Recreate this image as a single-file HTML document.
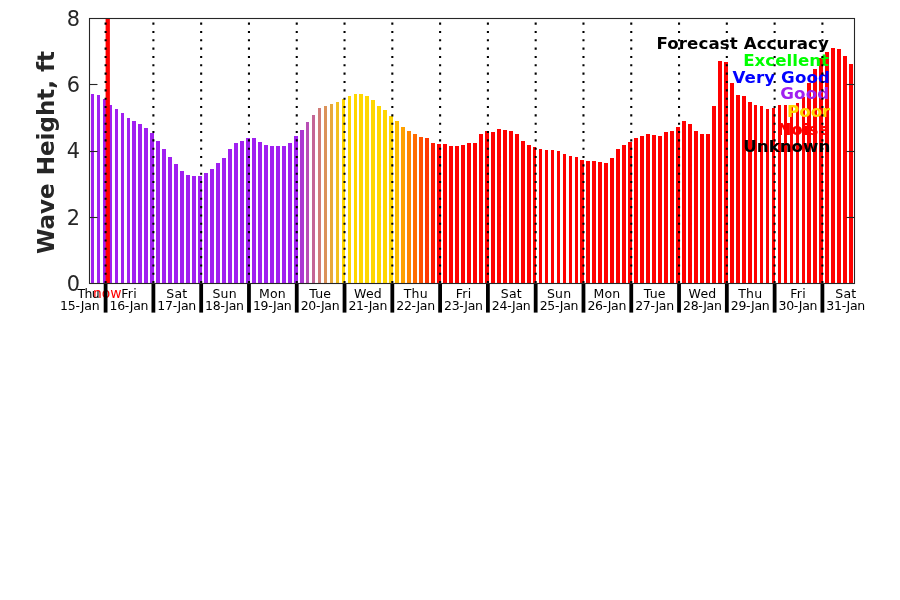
<!DOCTYPE html>
<html><head><meta charset="utf-8"><title>Wave Height Forecast</title>
<style>
html,body{margin:0;padding:0;background:#fff;}
body{width:900px;height:600px;overflow:hidden;}
svg{display:block;}
text{font-family:"DejaVu Sans","Liberation Sans",sans-serif;}
.b{font-weight:bold;}
</style></head><body>
<svg width="900" height="600" viewBox="0 0 900 600">
<rect width="900" height="600" fill="#fff"/>

<g shape-rendering="crispEdges">
<rect x="91" y="94" width="3" height="189" fill="#a020f0"/>
<rect x="97" y="95" width="3" height="188" fill="#a020f0"/>
<rect x="103" y="99" width="3" height="184" fill="#a020f0"/>
<rect x="109" y="105" width="3" height="178" fill="#a020f0"/>
<rect x="115" y="109" width="3" height="174" fill="#a020f0"/>
<rect x="121" y="113" width="3" height="170" fill="#a020f0"/>
<rect x="127" y="118" width="3" height="165" fill="#a020f0"/>
<rect x="132" y="121" width="4" height="162" fill="#a020f0"/>
<rect x="138" y="124" width="4" height="159" fill="#a020f0"/>
<rect x="144" y="128" width="4" height="155" fill="#a020f0"/>
<rect x="150" y="133" width="4" height="150" fill="#a020f0"/>
<rect x="156" y="141" width="4" height="142" fill="#a020f0"/>
<rect x="162" y="149" width="4" height="134" fill="#a020f0"/>
<rect x="168" y="157" width="4" height="126" fill="#a020f0"/>
<rect x="174" y="164" width="4" height="119" fill="#a020f0"/>
<rect x="180" y="171" width="4" height="112" fill="#a020f0"/>
<rect x="186" y="175" width="4" height="108" fill="#a020f0"/>
<rect x="192" y="176" width="4" height="107" fill="#a020f0"/>
<rect x="198" y="176" width="4" height="107" fill="#a020f0"/>
<rect x="204" y="173" width="4" height="110" fill="#a020f0"/>
<rect x="210" y="169" width="4" height="114" fill="#a020f0"/>
<rect x="216" y="163" width="4" height="120" fill="#a020f0"/>
<rect x="222" y="158" width="4" height="125" fill="#a020f0"/>
<rect x="228" y="149" width="4" height="134" fill="#a020f0"/>
<rect x="234" y="143" width="4" height="140" fill="#a020f0"/>
<rect x="240" y="141" width="4" height="142" fill="#a020f0"/>
<rect x="246" y="138" width="4" height="145" fill="#a020f0"/>
<rect x="252" y="138" width="4" height="145" fill="#a020f0"/>
<rect x="258" y="142" width="4" height="141" fill="#a020f0"/>
<rect x="264" y="145" width="4" height="138" fill="#a020f0"/>
<rect x="270" y="146" width="4" height="137" fill="#a020f0"/>
<rect x="276" y="146" width="4" height="137" fill="#a020f0"/>
<rect x="282" y="146" width="4" height="137" fill="#a020f0"/>
<rect x="288" y="143" width="4" height="140" fill="#a020f0"/>
<rect x="294" y="136" width="4" height="147" fill="#a020f0"/>
<rect x="300" y="130" width="4" height="153" fill="#ac37d2"/>
<rect x="306" y="122" width="3" height="161" fill="#b84eb4"/>
<rect x="312" y="115" width="3" height="168" fill="#c46596"/>
<rect x="318" y="108" width="3" height="175" fill="#d07c78"/>
<rect x="324" y="106" width="3" height="177" fill="#db925a"/>
<rect x="330" y="104" width="3" height="179" fill="#e7a93c"/>
<rect x="336" y="102" width="3" height="181" fill="#f3c01e"/>
<rect x="342" y="99" width="3" height="184" fill="#ffd700"/>
<rect x="348" y="96" width="3" height="187" fill="#ffd700"/>
<rect x="354" y="94" width="3" height="189" fill="#ffd700"/>
<rect x="359" y="94" width="4" height="189" fill="#ffd700"/>
<rect x="365" y="96" width="4" height="187" fill="#ffd700"/>
<rect x="371" y="100" width="4" height="183" fill="#ffd700"/>
<rect x="377" y="106" width="4" height="177" fill="#ffd700"/>
<rect x="383" y="110" width="4" height="173" fill="#ffd700"/>
<rect x="389" y="116" width="4" height="167" fill="#ffd700"/>
<rect x="395" y="121" width="4" height="162" fill="#ffbc00"/>
<rect x="401" y="127" width="4" height="156" fill="#ffa100"/>
<rect x="407" y="131" width="4" height="152" fill="#ff8600"/>
<rect x="413" y="134" width="4" height="149" fill="#ff6c00"/>
<rect x="419" y="137" width="4" height="146" fill="#ff5100"/>
<rect x="425" y="138" width="4" height="145" fill="#ff3600"/>
<rect x="431" y="143" width="4" height="140" fill="#ff1b00"/>
<rect x="437" y="144" width="4" height="139" fill="#ff0000"/>
<rect x="443" y="144" width="4" height="139" fill="#ff0000"/>
<rect x="449" y="146" width="4" height="137" fill="#ff0000"/>
<rect x="455" y="146" width="4" height="137" fill="#ff0000"/>
<rect x="461" y="145" width="4" height="138" fill="#ff0000"/>
<rect x="467" y="143" width="4" height="140" fill="#ff0000"/>
<rect x="473" y="143" width="4" height="140" fill="#ff0000"/>
<rect x="479" y="134" width="4" height="149" fill="#ff0000"/>
<rect x="485" y="131" width="4" height="152" fill="#ff0000"/>
<rect x="491" y="132" width="4" height="151" fill="#ff0000"/>
<rect x="497" y="129" width="4" height="154" fill="#ff0000"/>
<rect x="503" y="130" width="4" height="153" fill="#ff0000"/>
<rect x="509" y="131" width="4" height="152" fill="#ff0000"/>
<rect x="515" y="134" width="4" height="149" fill="#ff0000"/>
<rect x="521" y="141" width="4" height="142" fill="#ff0000"/>
<rect x="527" y="145" width="4" height="138" fill="#ff0000"/>
<rect x="533" y="147" width="3" height="136" fill="#ff0000"/>
<rect x="539" y="149" width="3" height="134" fill="#ff0000"/>
<rect x="545" y="150" width="3" height="133" fill="#ff0000"/>
<rect x="551" y="150" width="3" height="133" fill="#ff0000"/>
<rect x="557" y="151" width="3" height="132" fill="#ff0000"/>
<rect x="563" y="154" width="3" height="129" fill="#ff0000"/>
<rect x="569" y="156" width="3" height="127" fill="#ff0000"/>
<rect x="575" y="157" width="3" height="126" fill="#ff0000"/>
<rect x="580" y="160" width="4" height="123" fill="#ff0000"/>
<rect x="586" y="161" width="4" height="122" fill="#ff0000"/>
<rect x="592" y="161" width="4" height="122" fill="#ff0000"/>
<rect x="598" y="162" width="4" height="121" fill="#ff0000"/>
<rect x="604" y="163" width="4" height="120" fill="#ff0000"/>
<rect x="610" y="158" width="4" height="125" fill="#ff0000"/>
<rect x="616" y="149" width="4" height="134" fill="#ff0000"/>
<rect x="622" y="145" width="4" height="138" fill="#ff0000"/>
<rect x="628" y="142" width="4" height="141" fill="#ff0000"/>
<rect x="634" y="138" width="4" height="145" fill="#ff0000"/>
<rect x="640" y="136" width="4" height="147" fill="#ff0000"/>
<rect x="646" y="134" width="4" height="149" fill="#ff0000"/>
<rect x="652" y="135" width="4" height="148" fill="#ff0000"/>
<rect x="658" y="136" width="4" height="147" fill="#ff0000"/>
<rect x="664" y="132" width="4" height="151" fill="#ff0000"/>
<rect x="670" y="131" width="4" height="152" fill="#ff0000"/>
<rect x="676" y="127" width="4" height="156" fill="#ff0000"/>
<rect x="682" y="121" width="4" height="162" fill="#ff0000"/>
<rect x="688" y="124" width="4" height="159" fill="#ff0000"/>
<rect x="694" y="131" width="4" height="152" fill="#ff0000"/>
<rect x="700" y="134" width="4" height="149" fill="#ff0000"/>
<rect x="706" y="134" width="4" height="149" fill="#ff0000"/>
<rect x="712" y="106" width="4" height="177" fill="#ff0000"/>
<rect x="718" y="61" width="4" height="222" fill="#ff0000"/>
<rect x="724" y="62" width="4" height="221" fill="#ff0000"/>
<rect x="730" y="83" width="4" height="200" fill="#ff0000"/>
<rect x="736" y="95" width="4" height="188" fill="#ff0000"/>
<rect x="742" y="96" width="4" height="187" fill="#ff0000"/>
<rect x="748" y="102" width="4" height="181" fill="#ff0000"/>
<rect x="754" y="105" width="3" height="178" fill="#ff0000"/>
<rect x="760" y="106" width="3" height="177" fill="#ff0000"/>
<rect x="766" y="109" width="3" height="174" fill="#ff0000"/>
<rect x="772" y="108" width="3" height="175" fill="#ff0000"/>
<rect x="778" y="105" width="3" height="178" fill="#ff0000"/>
<rect x="784" y="105" width="3" height="178" fill="#ff0000"/>
<rect x="790" y="105" width="3" height="178" fill="#ff0000"/>
<rect x="796" y="103" width="3" height="180" fill="#ff0000"/>
<rect x="802" y="97" width="3" height="186" fill="#ff0000"/>
<rect x="807" y="83" width="4" height="200" fill="#ff0000"/>
<rect x="813" y="69" width="4" height="214" fill="#ff0000"/>
<rect x="819" y="58" width="4" height="225" fill="#ff0000"/>
<rect x="825" y="52" width="4" height="231" fill="#ff0000"/>
<rect x="831" y="48" width="4" height="235" fill="#ff0000"/>
<rect x="837" y="49" width="4" height="234" fill="#ff0000"/>
<rect x="843" y="56" width="4" height="227" fill="#ff0000"/>
<rect x="849" y="64" width="4" height="219" fill="#ff0000"/>
</g>
<text class="b" x="829.0" y="48.6" font-size="16.67" fill="#000" text-anchor="end" letter-spacing="0.08">Forecast Accuracy</text>
<text class="b" x="829.0" y="65.7" font-size="16.67" fill="#0f0" text-anchor="end">Excellent</text>
<text class="b" x="830.1" y="82.8" font-size="16.67" fill="#00f" text-anchor="end" letter-spacing="0.12">Very Good</text>
<text class="b" x="829.4" y="99.4" font-size="16.67" fill="#a020f0" text-anchor="end" letter-spacing="0.15">Good</text>
<text class="b" x="830.3" y="117.0" font-size="16.67" fill="#ffd700" text-anchor="end">Poor</text>
<text class="b" x="829.7" y="135.0" font-size="16.67" fill="#f00" text-anchor="end">Noise</text>
<text class="b" x="830.3" y="152.0" font-size="16.67" fill="#000" text-anchor="end">Unknown</text>
<line x1="107.75" y1="18.5" x2="107.75" y2="283.5" stroke="#f00" stroke-width="4.3"/>
<line x1="105.60" y1="283.2" x2="105.60" y2="18.5" stroke="#000" stroke-width="2.08" stroke-dasharray="2.08 6.26"/>
<line x1="153.39" y1="283.2" x2="153.39" y2="18.5" stroke="#000" stroke-width="2.08" stroke-dasharray="2.08 6.26"/>
<line x1="201.17" y1="283.2" x2="201.17" y2="18.5" stroke="#000" stroke-width="2.08" stroke-dasharray="2.08 6.26"/>
<line x1="248.96" y1="283.2" x2="248.96" y2="18.5" stroke="#000" stroke-width="2.08" stroke-dasharray="2.08 6.26"/>
<line x1="296.75" y1="283.2" x2="296.75" y2="18.5" stroke="#000" stroke-width="2.08" stroke-dasharray="2.08 6.26"/>
<line x1="344.53" y1="283.2" x2="344.53" y2="18.5" stroke="#000" stroke-width="2.08" stroke-dasharray="2.08 6.26"/>
<line x1="392.32" y1="283.2" x2="392.32" y2="18.5" stroke="#000" stroke-width="2.08" stroke-dasharray="2.08 6.26"/>
<line x1="440.11" y1="283.2" x2="440.11" y2="18.5" stroke="#000" stroke-width="2.08" stroke-dasharray="2.08 6.26"/>
<line x1="487.90" y1="283.2" x2="487.90" y2="18.5" stroke="#000" stroke-width="2.08" stroke-dasharray="2.08 6.26"/>
<line x1="535.68" y1="283.2" x2="535.68" y2="18.5" stroke="#000" stroke-width="2.08" stroke-dasharray="2.08 6.26"/>
<line x1="583.47" y1="283.2" x2="583.47" y2="18.5" stroke="#000" stroke-width="2.08" stroke-dasharray="2.08 6.26"/>
<line x1="631.26" y1="283.2" x2="631.26" y2="18.5" stroke="#000" stroke-width="2.08" stroke-dasharray="2.08 6.26"/>
<line x1="679.04" y1="283.2" x2="679.04" y2="18.5" stroke="#000" stroke-width="2.08" stroke-dasharray="2.08 6.26"/>
<line x1="726.83" y1="283.2" x2="726.83" y2="18.5" stroke="#000" stroke-width="2.08" stroke-dasharray="2.08 6.26"/>
<line x1="774.62" y1="283.2" x2="774.62" y2="18.5" stroke="#000" stroke-width="2.08" stroke-dasharray="2.08 6.26"/>
<line x1="822.40" y1="283.2" x2="822.40" y2="18.5" stroke="#000" stroke-width="2.08" stroke-dasharray="2.08 6.26"/>
<text x="107.3" y="297.9" font-size="13.89" fill="#f00" text-anchor="middle">now</text>
<line x1="105.60" y1="283.5" x2="105.60" y2="312.6" stroke="#000" stroke-width="3.8"/>
<line x1="153.39" y1="283.5" x2="153.39" y2="312.6" stroke="#000" stroke-width="3.8"/>
<line x1="201.17" y1="283.5" x2="201.17" y2="312.6" stroke="#000" stroke-width="3.8"/>
<line x1="248.96" y1="283.5" x2="248.96" y2="312.6" stroke="#000" stroke-width="3.8"/>
<line x1="296.75" y1="283.5" x2="296.75" y2="312.6" stroke="#000" stroke-width="3.8"/>
<line x1="344.53" y1="283.5" x2="344.53" y2="312.6" stroke="#000" stroke-width="3.8"/>
<line x1="392.32" y1="283.5" x2="392.32" y2="312.6" stroke="#000" stroke-width="3.8"/>
<line x1="440.11" y1="283.5" x2="440.11" y2="312.6" stroke="#000" stroke-width="3.8"/>
<line x1="487.90" y1="283.5" x2="487.90" y2="312.6" stroke="#000" stroke-width="3.8"/>
<line x1="535.68" y1="283.5" x2="535.68" y2="312.6" stroke="#000" stroke-width="3.8"/>
<line x1="583.47" y1="283.5" x2="583.47" y2="312.6" stroke="#000" stroke-width="3.8"/>
<line x1="631.26" y1="283.5" x2="631.26" y2="312.6" stroke="#000" stroke-width="3.8"/>
<line x1="679.04" y1="283.5" x2="679.04" y2="312.6" stroke="#000" stroke-width="3.8"/>
<line x1="726.83" y1="283.5" x2="726.83" y2="312.6" stroke="#000" stroke-width="3.8"/>
<line x1="774.62" y1="283.5" x2="774.62" y2="312.6" stroke="#000" stroke-width="3.8"/>
<line x1="822.40" y1="283.5" x2="822.40" y2="312.6" stroke="#000" stroke-width="3.8"/>
<g stroke="#262626" stroke-width="1.1" fill="none">
<rect x="89.5" y="18.5" width="765.0" height="265.0"/>
<line x1="89.5" y1="217.50" x2="97.5" y2="217.50"/>
<line x1="854.5" y1="217.50" x2="846.5" y2="217.50"/>
<line x1="89.5" y1="151.50" x2="97.5" y2="151.50"/>
<line x1="854.5" y1="151.50" x2="846.5" y2="151.50"/>
<line x1="89.5" y1="84.50" x2="97.5" y2="84.50"/>
<line x1="854.5" y1="84.50" x2="846.5" y2="84.50"/>
</g>
<text x="80" y="290.8" font-size="20.83" fill="#262626" text-anchor="end">0</text>
<text x="80" y="224.6" font-size="20.83" fill="#262626" text-anchor="end">2</text>
<text x="80" y="158.3" font-size="20.83" fill="#262626" text-anchor="end">4</text>
<text x="80" y="92.0" font-size="20.83" fill="#262626" text-anchor="end">6</text>
<text x="80" y="25.8" font-size="20.83" fill="#262626" text-anchor="end">8</text>
<text class="b" transform="translate(54.3,152.5) rotate(-90)" font-size="23" fill="#262626" text-anchor="middle">Wave Height, ft</text>
<text x="99.2" y="297.9" font-size="12.5" text-anchor="end" letter-spacing="-0.6">Thu</text>
<text x="99.7" y="309.7" font-size="12.5" text-anchor="end" letter-spacing="-0.1">15-Jan</text>
<text x="129.10" y="297.9" font-size="12.5" text-anchor="middle" letter-spacing="0.25">Fri</text>
<text x="128.85" y="309.7" font-size="12.5" text-anchor="middle" letter-spacing="-0.3">16-Jan</text>
<text x="176.89" y="297.9" font-size="12.5" text-anchor="middle" letter-spacing="0.25">Sat</text>
<text x="176.64" y="309.7" font-size="12.5" text-anchor="middle" letter-spacing="-0.3">17-Jan</text>
<text x="224.67" y="297.9" font-size="12.5" text-anchor="middle" letter-spacing="0.25">Sun</text>
<text x="224.42" y="309.7" font-size="12.5" text-anchor="middle" letter-spacing="-0.3">18-Jan</text>
<text x="272.46" y="297.9" font-size="12.5" text-anchor="middle" letter-spacing="0.25">Mon</text>
<text x="272.21" y="309.7" font-size="12.5" text-anchor="middle" letter-spacing="-0.3">19-Jan</text>
<text x="320.25" y="297.9" font-size="12.5" text-anchor="middle" letter-spacing="0.25">Tue</text>
<text x="320.00" y="309.7" font-size="12.5" text-anchor="middle" letter-spacing="-0.3">20-Jan</text>
<text x="368.03" y="297.9" font-size="12.5" text-anchor="middle" letter-spacing="0.25">Wed</text>
<text x="367.78" y="309.7" font-size="12.5" text-anchor="middle" letter-spacing="-0.3">21-Jan</text>
<text x="415.82" y="297.9" font-size="12.5" text-anchor="middle" letter-spacing="0.25">Thu</text>
<text x="415.57" y="309.7" font-size="12.5" text-anchor="middle" letter-spacing="-0.3">22-Jan</text>
<text x="463.61" y="297.9" font-size="12.5" text-anchor="middle" letter-spacing="0.25">Fri</text>
<text x="463.36" y="309.7" font-size="12.5" text-anchor="middle" letter-spacing="-0.3">23-Jan</text>
<text x="511.40" y="297.9" font-size="12.5" text-anchor="middle" letter-spacing="0.25">Sat</text>
<text x="511.15" y="309.7" font-size="12.5" text-anchor="middle" letter-spacing="-0.3">24-Jan</text>
<text x="559.18" y="297.9" font-size="12.5" text-anchor="middle" letter-spacing="0.25">Sun</text>
<text x="558.93" y="309.7" font-size="12.5" text-anchor="middle" letter-spacing="-0.3">25-Jan</text>
<text x="606.97" y="297.9" font-size="12.5" text-anchor="middle" letter-spacing="0.25">Mon</text>
<text x="606.72" y="309.7" font-size="12.5" text-anchor="middle" letter-spacing="-0.3">26-Jan</text>
<text x="654.76" y="297.9" font-size="12.5" text-anchor="middle" letter-spacing="0.25">Tue</text>
<text x="654.51" y="309.7" font-size="12.5" text-anchor="middle" letter-spacing="-0.3">27-Jan</text>
<text x="702.54" y="297.9" font-size="12.5" text-anchor="middle" letter-spacing="0.25">Wed</text>
<text x="702.29" y="309.7" font-size="12.5" text-anchor="middle" letter-spacing="-0.3">28-Jan</text>
<text x="750.33" y="297.9" font-size="12.5" text-anchor="middle" letter-spacing="0.25">Thu</text>
<text x="750.08" y="309.7" font-size="12.5" text-anchor="middle" letter-spacing="-0.3">29-Jan</text>
<text x="798.12" y="297.9" font-size="12.5" text-anchor="middle" letter-spacing="0.25">Fri</text>
<text x="797.87" y="309.7" font-size="12.5" text-anchor="middle" letter-spacing="-0.3">30-Jan</text>
<text x="845.90" y="297.9" font-size="12.5" text-anchor="middle" letter-spacing="0.25">Sat</text>
<text x="845.65" y="309.7" font-size="12.5" text-anchor="middle" letter-spacing="-0.3">31-Jan</text>
</svg></body></html>
